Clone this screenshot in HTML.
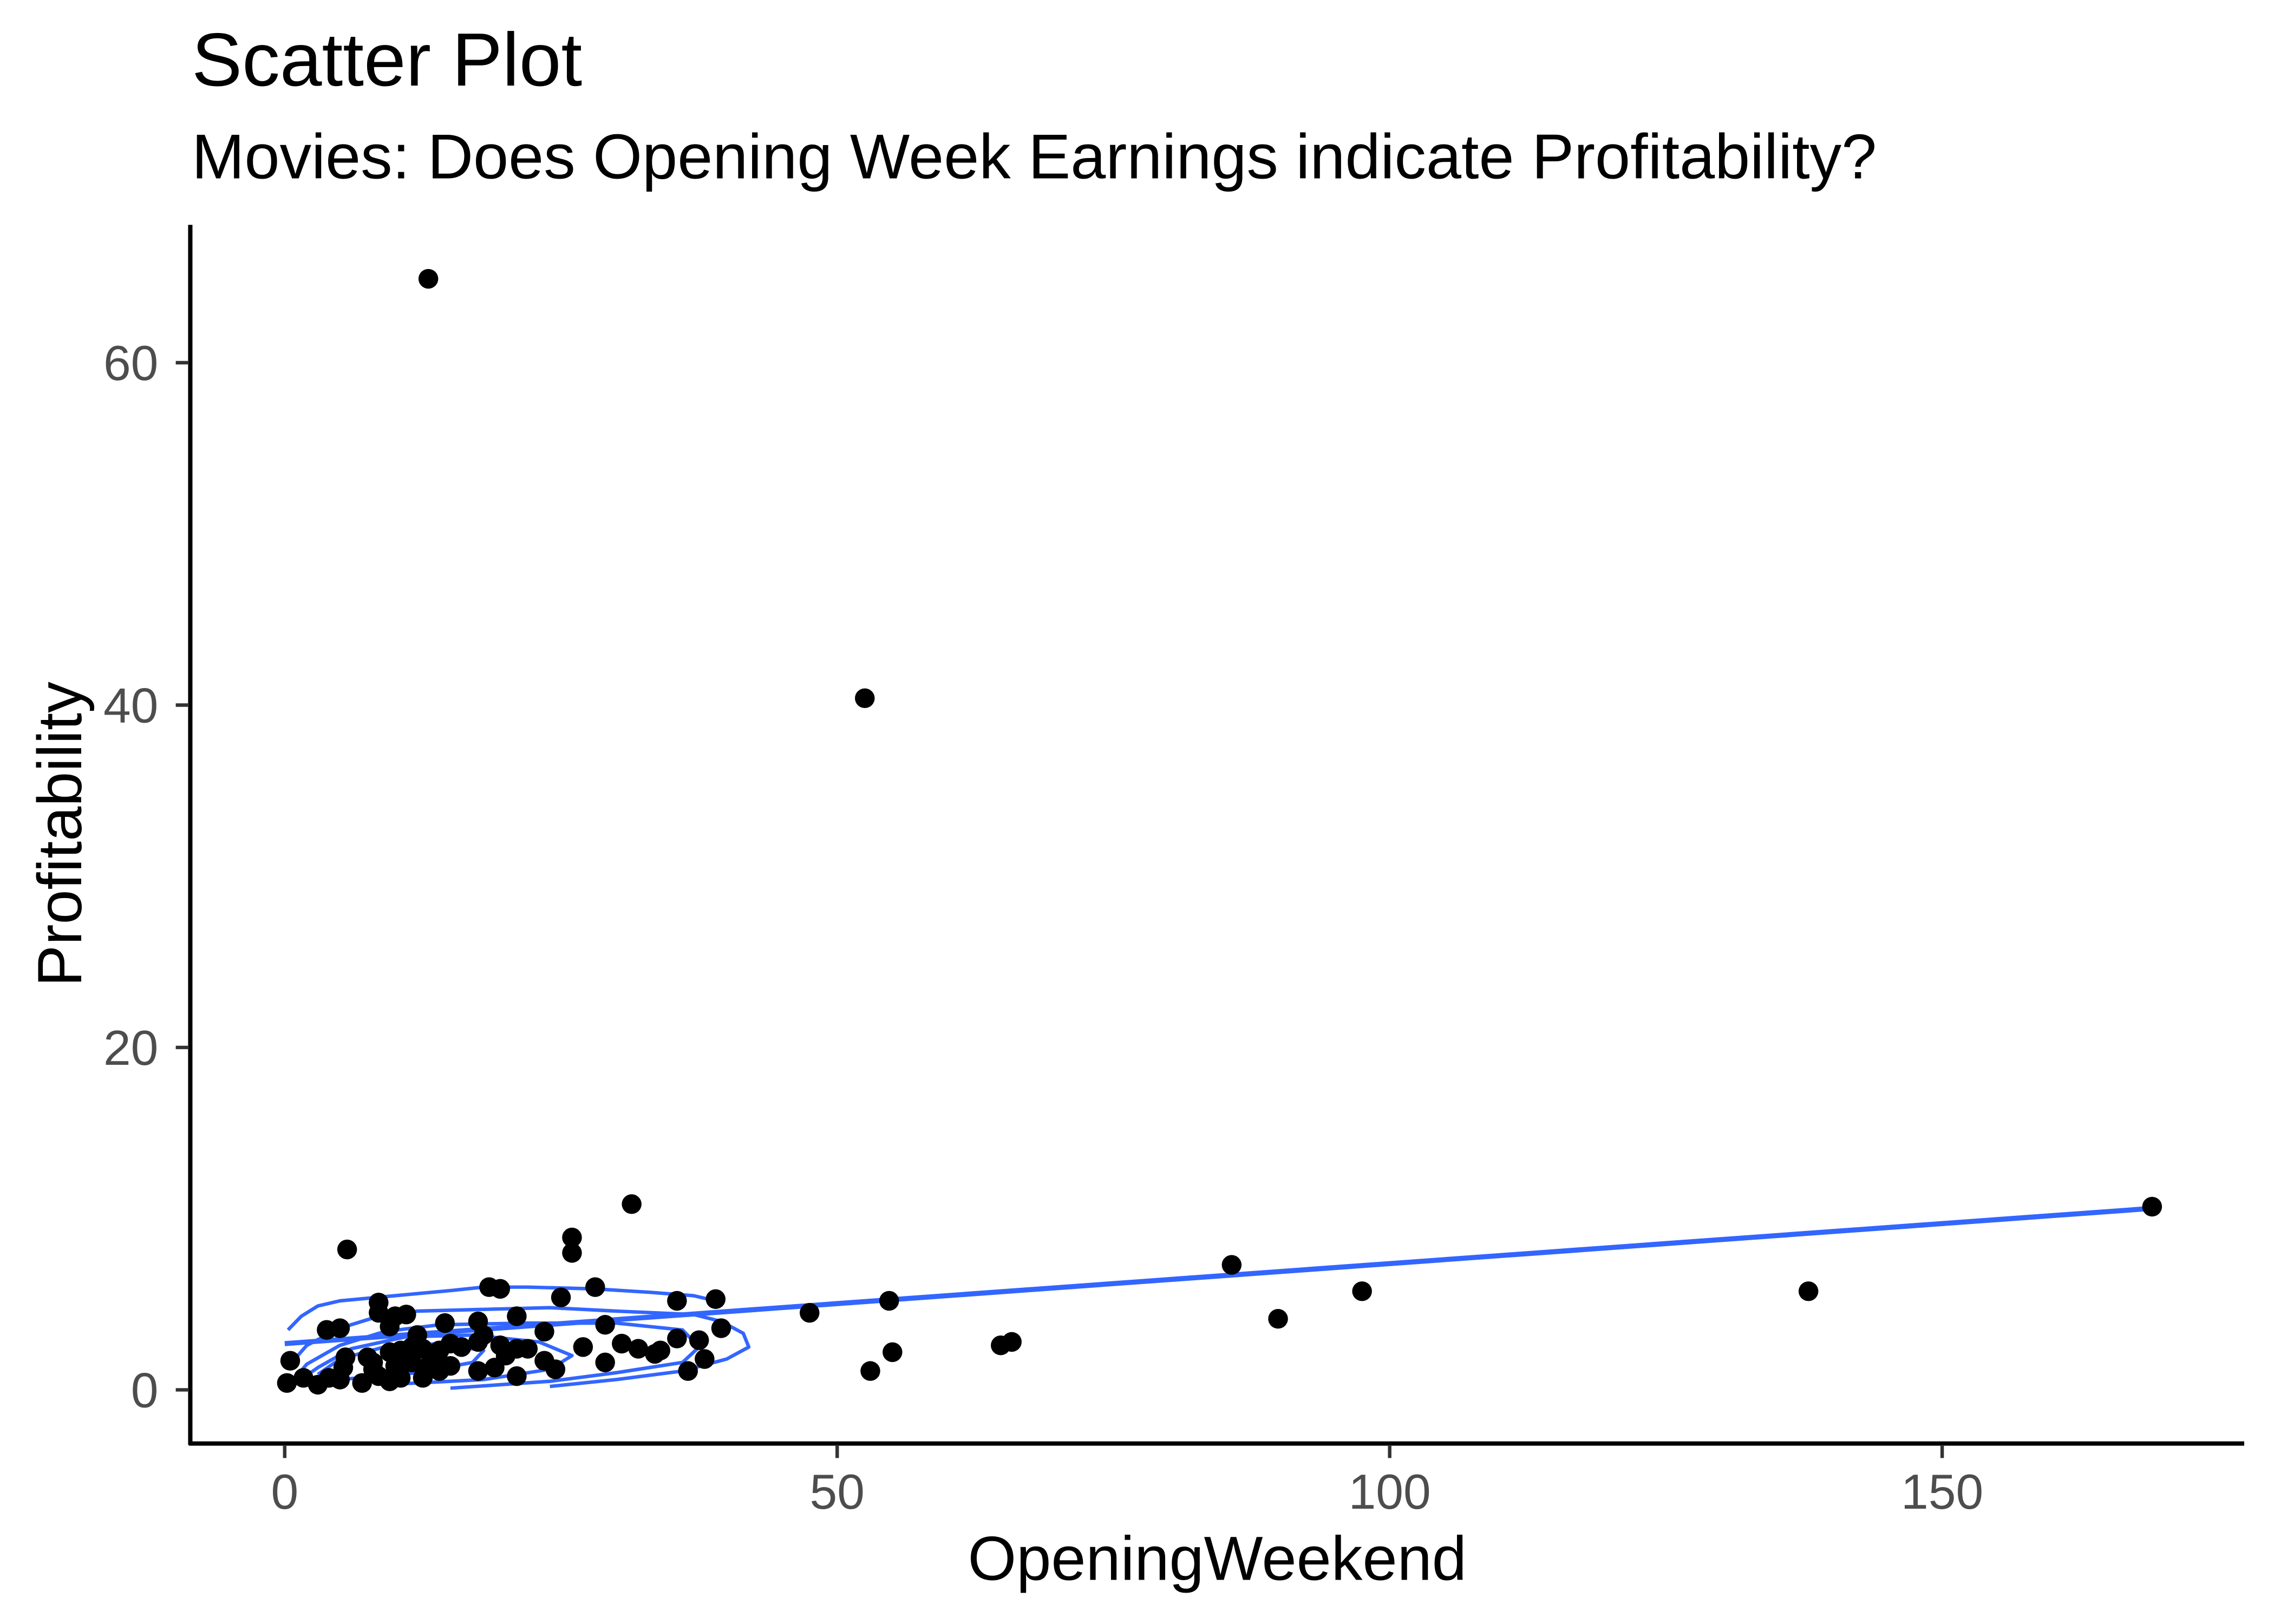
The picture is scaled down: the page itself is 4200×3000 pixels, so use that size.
<!DOCTYPE html>
<html><head><meta charset="utf-8"><style>
html,body{margin:0;padding:0;background:#fff;}
svg{display:block;}
text{font-family:"Liberation Sans",sans-serif;}
</style></head><body>
<svg width="4200" height="3000" viewBox="0 0 1565.5 1119.4" preserveAspectRatio="none" xmlns="http://www.w3.org/2000/svg">
<rect width="1566" height="1120" fill="#fff"/>
<text x="132" y="59" font-size="52">Scatter Plot</text>
<text x="132" y="123" font-size="43.6">Movies: Does Opening Week Earnings indicate Profitability?</text>
<g id="contours"></g>
<g id="fit"></g>
<g id="pts"></g>
<g id="axes"></g>
<text x="838" y="1089" font-size="43" text-anchor="middle">OpeningWeekend</text>
<text transform="translate(56,575) rotate(-90)" font-size="43" text-anchor="middle">Profitability</text>
</svg>
<script>
const xTicks=[0,50,100,150];
const yTicks=[0,20,40,60];
const pointsX=[13,52.5,169,85.7,89.9,97.5,137.9,64.8,65.8,55,53,54.7,47.5,31.4,26,26,5.65,28.1,18.5,19.5,25,35.5,39,39.5,35.5,37.5,38,36.5,33.5,34,32,30.5,29,29,27,24.5,23.5,23.5,21,21,21,22,19.5,19,17.5,18,17.5,8.5,8.5,11,10,9.5,5,3.8,14.5,12,0.5,0.2,1.7,3,4,5,5.3,5.5,7,7.5,8,8.5,9.5,10,10.5,11,11.5,12.5,12.5,13.5,14,15,15,16,13,9.5,10.5,8,11.5,14,17.5,20];
const pointsY=[64.9,40.4,10.7,7.3,4.15,5.76,5.76,2.6,2.8,2.2,1.1,5.2,4.5,10.85,8.9,8.0,8.2,6.0,6.0,5.9,5.4,5.2,5.3,3.6,3.0,2.9,1.8,1.1,2.1,2.3,2.4,2.7,3.8,1.6,2.5,1.2,1.7,3.4,4.3,2.4,0.8,2.4,2.6,1.3,4.0,3.2,1.1,5.1,4.5,4.4,4.3,3.7,3.6,3.5,3.9,3.2,1.7,0.4,0.7,0.3,0.7,0.6,1.3,1.9,0.4,1.9,1.2,0.8,0.5,1.4,0.7,2.1,1.6,0.7,2.4,1.8,2.3,1.4,2.7,2.5,1.4,2.2,2.3,1.6,2.5,1.1,2.8,2.0];
const fitX=[0,169];
const fitY=[2.7,10.6];
const contour1=[[0.3,3.5],[1.5,4.3],[3,4.9],[5,5.2],[10,5.5],[15,5.8],[18,6.0],[22,6.0],[28,5.9],[33,5.7],[37,5.5],[39,5.2]];
const contour2=[[24,0.2],[30,0.6],[36,1.1],[40,1.8],[42,2.5],[41.5,3.3],[39.5,4.0],[37,4.4],[30,4.6],[24,4.8],[18,4.7],[12,4.6],[8,4.2],[5,3.6],[2,2.6],[0.5,1.5]];
const contour3=[[15,0.1],[24,0.5],[30,1.0],[36,1.6],[37.5,2.5],[36,3.5],[30,3.9],[22,3.9],[14,3.8],[9,3.4],[5,2.6],[2,1.5],[0.8,0.6]];
const contour4=[[9,0.3],[18,0.6],[24,1.2],[26,2.0],[23,2.8],[17,3.2],[11,3.1],[6,2.4],[3,1.3],[1,0.4]];
const contour5=[[5,0.6],[12,1.0],[17,1.6],[18,2.3],[14,2.7],[9,2.5],[5,1.8],[3,0.9]];
const NS="http://www.w3.org/2000/svg";
const sx=v=>196+v*7.607;
const sy=v=>958-v*11.8;
function mk(tag,attrs,parent){const e=document.createElementNS(NS,tag);for(const k in attrs)e.setAttribute(k,attrs[k]);parent.appendChild(e);return e;}
const cg=document.getElementById('contours');
[contour1,contour2,contour3,contour4,contour5].forEach((c,i)=>{
 const p=mk('polyline',{points:c.map(d=>sx(d[0])+','+sy(d[1])).join(' '),fill:'none',stroke:'#3366FF','stroke-width':2.4,'stroke-linejoin':'round'},cg);
 
 
});
const fg=document.getElementById('fit');
const fl=mk('line',{x1:sx(fitX[0]),y1:sy(fitY[0]),x2:sx(fitX[1]),y2:sy(fitY[1]),stroke:'#3366FF','stroke-width':3.5},fg);


const pg=document.getElementById('pts');
pointsX.forEach((x,i)=>{
 const c=mk('circle',{cx:sx(x),cy:sy(pointsY[i]),r:6.8,fill:'#000'},pg);
 
 
});
const ag=document.getElementById('axes');
const ya=mk('line',{x1:131,y1:155,x2:131,y2:996,stroke:'#000','stroke-width':3},ag);


const xa=mk('line',{x1:130,y1:995,x2:1545,y2:995,stroke:'#000','stroke-width':3},ag);


xTicks.forEach(t=>{
 const l=mk('line',{x1:sx(t),y1:996,x2:sx(t),y2:1005,stroke:'#333','stroke-width':2.4},ag);
 
 
 const tx=mk('text',{x:sx(t),y:1040,'font-size':34,fill:'#4d4d4d','text-anchor':'middle'},ag);
 tx.textContent=t;
 
 
});
yTicks.forEach(t=>{
 const l=mk('line',{x1:121,y1:sy(t),x2:130,y2:sy(t),stroke:'#333','stroke-width':2.4},ag);
 
 
 const tx=mk('text',{x:109,y:sy(t)+12,'font-size':34,fill:'#4d4d4d','text-anchor':'end'},ag);
 tx.textContent=t;
 
 
});
</script>
</body></html>
